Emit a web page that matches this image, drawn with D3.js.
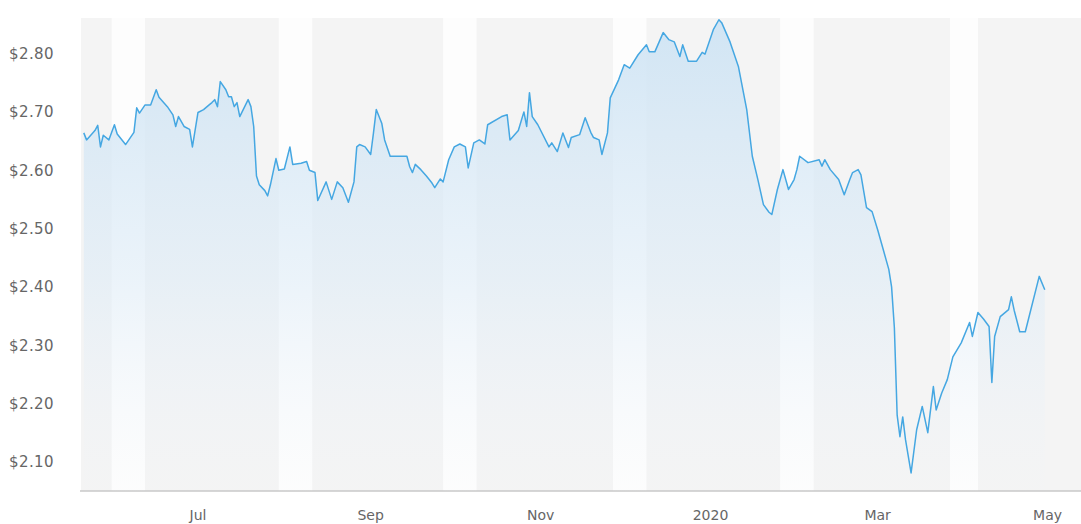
<!DOCTYPE html>
<html>
<head>
<meta charset="utf-8">
<script src="https://cdn.jsdelivr.net/npm/d3@7"></script>
<style>
  body { margin: 0; background: #fff; }
  text { font-family: "DejaVu Sans", sans-serif; fill: #666; }
</style>
</head>
<body>
<svg id="chart"></svg>
<script>
var W = 1081, H = 524;
var margin = { top: 18, right: 0, bottom: 33, left: 81 };

// price data
var dates = [
  "2019-05-21","2019-05-22","2019-05-25","2019-05-26","2019-05-27","2019-05-28","2019-05-30","2019-06-01","2019-06-02","2019-06-05",
  "2019-06-08","2019-06-09","2019-06-10","2019-06-12","2019-06-14","2019-06-16","2019-06-17","2019-06-20","2019-06-22","2019-06-23",
  "2019-06-24","2019-06-26","2019-06-28","2019-06-29","2019-07-01","2019-07-03","2019-07-05","2019-07-06","2019-07-07","2019-07-08",
  "2019-07-09","2019-07-11","2019-07-12","2019-07-13","2019-07-14","2019-07-15","2019-07-16","2019-07-19","2019-07-20","2019-07-21",
  "2019-07-22","2019-07-23","2019-07-25","2019-07-26","2019-07-27","2019-07-29","2019-07-30","2019-08-01","2019-08-03","2019-08-04",
  "2019-08-07","2019-08-09","2019-08-10","2019-08-12","2019-08-13","2019-08-16","2019-08-18","2019-08-20","2019-08-22","2019-08-24",
  "2019-08-26","2019-08-27","2019-08-28","2019-08-30","2019-09-01","2019-09-02","2019-09-03","2019-09-05","2019-09-06","2019-09-08",
  "2019-09-11","2019-09-14","2019-09-15","2019-09-16","2019-09-17","2019-09-19","2019-09-21","2019-09-23","2019-09-24","2019-09-26",
  "2019-09-27","2019-09-29","2019-10-01","2019-10-03","2019-10-05","2019-10-06","2019-10-08","2019-10-10","2019-10-12","2019-10-13",
  "2019-10-18","2019-10-20","2019-10-21","2019-10-24","2019-10-26","2019-10-27","2019-10-28","2019-10-29","2019-10-31","2019-11-04",
  "2019-11-05","2019-11-07","2019-11-09","2019-11-11","2019-11-12","2019-11-15","2019-11-17","2019-11-19","2019-11-20","2019-11-22",
  "2019-11-23","2019-11-25","2019-11-26","2019-11-29","2019-12-01","2019-12-03","2019-12-06","2019-12-09","2019-12-10","2019-12-12",
  "2019-12-15","2019-12-17","2019-12-19","2019-12-21","2019-12-22","2019-12-24","2019-12-27","2019-12-29","2019-12-30","2020-01-02",
  "2020-01-04","2020-01-05","2020-01-08","2020-01-11","2020-01-14","2020-01-16","2020-01-18","2020-01-20","2020-01-22","2020-01-23",
  "2020-01-25","2020-01-27","2020-01-29","2020-01-31","2020-02-01","2020-02-02","2020-02-05","2020-02-09","2020-02-10","2020-02-11",
  "2020-02-13","2020-02-16","2020-02-18","2020-02-20","2020-02-21","2020-02-23","2020-02-24","2020-02-26","2020-02-28","2020-03-01",
  "2020-03-03","2020-03-05","2020-03-06","2020-03-07","2020-03-08","2020-03-09","2020-03-10","2020-03-11","2020-03-13","2020-03-15",
  "2020-03-17","2020-03-19","2020-03-21","2020-03-22","2020-03-24","2020-03-26","2020-03-28","2020-03-31","2020-04-03","2020-04-04",
  "2020-04-06","2020-04-08","2020-04-10","2020-04-11","2020-04-12","2020-04-14","2020-04-17","2020-04-18","2020-04-19","2020-04-21",
  "2020-04-23","2020-04-28","2020-04-30"
];
var prices = [
  2.664,2.652,2.668,2.677,2.640,2.660,2.652,2.678,2.662,2.644,
  2.665,2.707,2.698,2.712,2.712,2.738,2.725,2.709,2.695,2.675,
  2.692,2.675,2.670,2.640,2.699,2.704,2.712,2.716,2.721,2.709,
  2.752,2.738,2.726,2.726,2.709,2.716,2.692,2.721,2.709,2.675,
  2.590,2.575,2.565,2.556,2.575,2.620,2.600,2.602,2.640,2.610,
  2.612,2.615,2.600,2.596,2.548,2.580,2.550,2.580,2.570,2.545,
  2.580,2.640,2.644,2.640,2.627,2.664,2.704,2.680,2.652,2.624,
  2.624,2.624,2.606,2.596,2.610,2.601,2.590,2.578,2.570,2.585,
  2.580,2.618,2.640,2.645,2.640,2.604,2.647,2.652,2.645,2.678,
  2.692,2.695,2.652,2.668,2.700,2.675,2.733,2.692,2.678,2.640,
  2.647,2.632,2.664,2.639,2.656,2.661,2.690,2.665,2.656,2.652,
  2.627,2.664,2.724,2.755,2.781,2.775,2.798,2.815,2.803,2.803,
  2.836,2.824,2.820,2.795,2.815,2.787,2.787,2.802,2.799,2.841,
  2.858,2.853,2.820,2.778,2.704,2.624,2.584,2.541,2.528,2.524,
  2.567,2.601,2.567,2.584,2.601,2.624,2.613,2.618,2.607,2.618,
  2.601,2.584,2.558,2.584,2.596,2.601,2.592,2.536,2.529,2.498,
  2.464,2.430,2.400,2.330,2.180,2.143,2.177,2.138,2.081,2.155,
  2.195,2.150,2.229,2.189,2.218,2.241,2.280,2.304,2.339,2.315,
  2.356,2.345,2.332,2.236,2.315,2.349,2.361,2.383,2.360,2.323,
  2.323,2.418,2.395
];

// lighter stripes in the background
var gapStart = ["2019-05-31","2019-07-30","2019-09-27","2019-11-27","2020-01-26","2020-03-27"];
var gapEnd   = ["2019-06-12","2019-08-11","2019-10-09","2019-12-09","2020-02-07","2020-04-06"];

var yTicks = [2.10, 2.20, 2.30, 2.40, 2.50, 2.60, 2.70, 2.80];
var xTicks = ["2019-07-01","2019-09-01","2019-11-01","2020-01-01","2020-03-01","2020-05-01"];

var parse = d3.timeParse("%Y-%m-%d");
var data = dates.map(function(d, i) { return { date: parse(d), price: prices[i] }; });

var svg = d3.select("#chart").attr("width", W).attr("height", H);

var x = d3.scaleTime()
    .domain([parse("2019-05-20"), parse("2020-05-13")])
    .range([margin.left, W - margin.right]);

var y = d3.scaleLinear()
    .domain([2.05, 2.861])
    .range([H - margin.bottom, margin.top]);

var defs = svg.append("defs");
var grad = defs.append("linearGradient")
    .attr("id", "fade")
    .attr("gradientUnits", "userSpaceOnUse")
    .attr("x1", 0).attr("x2", 0)
    .attr("y1", y(2.861)).attr("y2", y(2.05));
grad.append("stop").attr("offset", "0%").attr("stop-color", "#cfe4f4").attr("stop-opacity", 0.95);
grad.append("stop").attr("offset", "55%").attr("stop-color", "#dcebf7").attr("stop-opacity", 0.55);
grad.append("stop").attr("offset", "100%").attr("stop-color", "#eef4fa").attr("stop-opacity", 0.05);

// background bands
svg.append("rect")
    .attr("x", x.range()[0]).attr("y", y.range()[1])
    .attr("width", x.range()[1] - x.range()[0])
    .attr("height", y.range()[0] - y.range()[1])
    .attr("fill", "#f4f4f4");

svg.selectAll("rect.gap")
    .data(gapStart)
    .enter().append("rect")
    .attr("class", "gap")
    .attr("x", function(d) { return x(parse(d)); })
    .attr("width", function(d, i) { return x(parse(gapEnd[i])) - x(parse(d)); })
    .attr("y", y.range()[1])
    .attr("height", y.range()[0] - y.range()[1])
    .attr("fill", "#fdfdfd");

var area = d3.area()
    .x(function(d) { return x(d.date); })
    .y0(y(2.05))
    .y1(function(d) { return y(d.price); });

var line = d3.line()
    .x(function(d) { return x(d.date); })
    .y(function(d) { return y(d.price); });

svg.append("path")
    .datum(data)
    .attr("d", area)
    .attr("fill", "url(#fade)");

svg.append("path")
    .datum(data)
    .attr("d", line)
    .attr("fill", "none")
    .attr("stroke", "#45a7e2")
    .attr("stroke-width", 1.5)
    .attr("stroke-linejoin", "round");

// baseline
svg.append("line")
    .attr("x1", x.range()[0] - 1).attr("x2", x.range()[1])
    .attr("y1", y(2.05)).attr("y2", y(2.05))
    .attr("stroke", "#c9c9c9")
    .attr("stroke-width", 1.5);

// y labels
svg.selectAll("text.ylab")
    .data(yTicks)
    .enter().append("text")
    .attr("class", "ylab")
    .attr("x", 9)
    .attr("y", function(d) { return y(d); })
    .attr("dy", "0.36em")
    .style("font-size", "15px")
    .style("letter-spacing", "0.4px")
    .text(function(d) { return "$" + d.toFixed(2); });

// x labels
var fmt = function(d) { return d.getMonth() === 0 ? d3.timeFormat("%Y")(d) : d3.timeFormat("%b")(d); };
svg.selectAll("text.xlab")
    .data(xTicks)
    .enter().append("text")
    .attr("class", "xlab")
    .attr("x", function(d) { return x(parse(d)); })
    .attr("y", 520)
    .attr("text-anchor", "middle")
    .style("font-size", "14px")
    .text(function(d) { return fmt(parse(d)); });
</script>
</body>
</html>
